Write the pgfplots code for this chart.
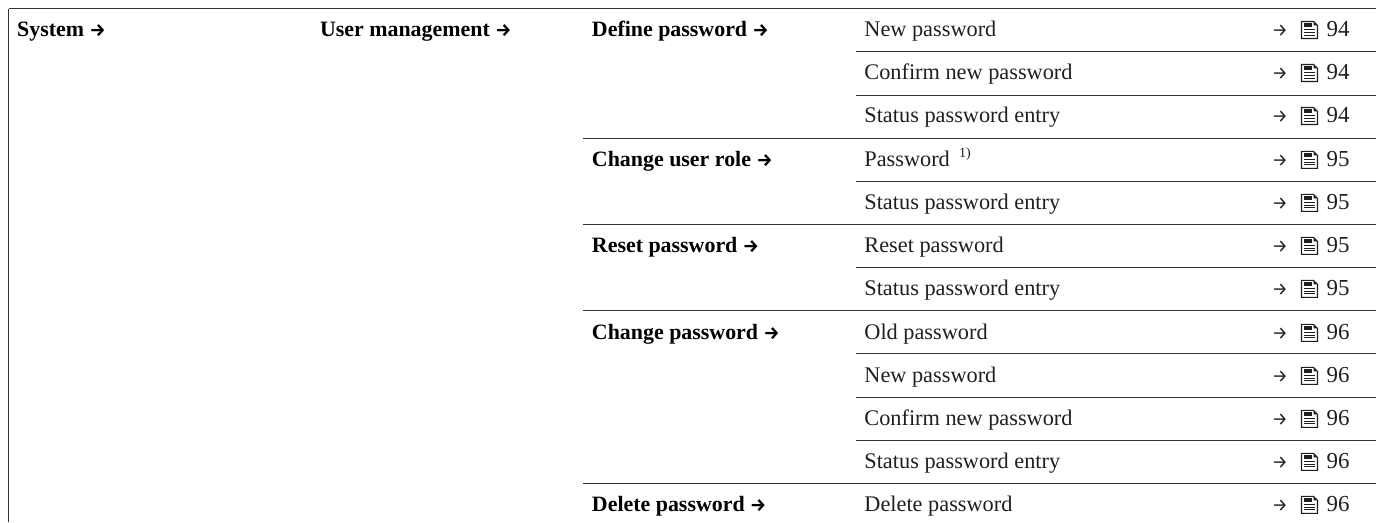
\documentclass[border=0pt]{standalone}
\usepackage{pgfplots}
\pgfplotsset{compat=1.18}
\usepackage{fontspec}
\setmainfont{Liberation Serif}
\newfontfamily\arrowfont{Fira Sans}
\newcommand{\arr}{{\arrowfont\fontsize{18}{18}\selectfont →}}
\definecolor{ink}{gray}{0.12}
\definecolor{rule}{gray}{0.2}
\tikzset{doc/.pic={
  \draw[line width=1.1bp,ink] (-8bp,-8.5bp) -- (-8bp,8.5bp) -- (4bp,8.5bp) -- (8bp,4.5bp) -- (8bp,-8.5bp) -- cycle;
  \fill[ink] (4bp,8.5bp) -- (8bp,4.5bp) -- (4bp,4.5bp) -- cycle;
  \fill[ink] (-5.5bp,2.5bp) rectangle (2.5bp,7bp);
  \draw[line width=0.9bp,ink] (-5.5bp,0.5bp) -- (5.5bp,0.5bp) (-5.5bp,-2.2bp) -- (5.5bp,-2.2bp) (-5.5bp,-5bp) -- (5.5bp,-5bp);
}}
\begin{document}
\begin{tikzpicture}
\begin{axis}[x=1bp,y=-1bp,xmin=0,xmax=1376,ymin=0,ymax=522,axis lines=none,
  scale only axis,clip=false,
  every axis plot/.append style={line width=1bp,rule,no markers,solid}]
\path (axis cs:0,0) (axis cs:1376,522);
\addplot[forget plot] coordinates {(9,9) (1376,9)};
\addplot[forget plot] coordinates {(9,9) (9,522)};
\addplot[forget plot] coordinates {(856,52) (1376,52)};
\addplot[forget plot] coordinates {(856,95.5) (1376,95.5)};
\addplot[forget plot] coordinates {(583,138.5) (1376,138.5)};
\addplot[forget plot] coordinates {(856,181.5) (1376,181.5)};
\addplot[forget plot] coordinates {(583,225) (1376,225)};
\addplot[forget plot] coordinates {(856,268) (1376,268)};
\addplot[forget plot] coordinates {(583,311) (1376,311)};
\addplot[forget plot] coordinates {(856,354) (1376,354)};
\addplot[forget plot] coordinates {(856,397.5) (1376,397.5)};
\addplot[forget plot] coordinates {(856,441) (1376,441)};
\addplot[forget plot] coordinates {(583,484) (1376,484)};
\newcommand{\lab}[3]{\node[anchor=base west,inner sep=0pt,font=\fontsize{22}{24}\selectfont\bfseries] at (axis cs:#1,#2) {#3};}
\newcommand{\ent}[3]{%
  \node[anchor=base west,inner sep=0pt,font=\fontsize{22.4}{25}\selectfont\color{ink}] at (axis cs:864.5,#1) {#2};
  \node[anchor=base west,inner sep=0pt,text=ink] at (axis cs:1272,#1) {\arr};
  \pic at (axis cs:1310,#1-7) {doc};
  \node[anchor=base west,inner sep=0pt,font=\fontsize{23}{25}\selectfont\color{ink}] at (axis cs:1327,#1) {#3};}
\lab{17}{37}{System \arr}
\lab{320}{37}{User management \arr}
\lab{592}{37}{Define password \arr}
\lab{592}{167}{Change user role \arr}
\lab{592}{253}{Reset password \arr}
\lab{592}{340}{Change password \arr}
\lab{592}{512}{Delete password \arr}
\ent{37}{New password}{94}
\ent{80}{Confirm new password}{94}
\ent{123}{Status password entry}{94}
\ent{167}{Password\, \raisebox{9bp}{\fontsize{14}{14}\selectfont 1)}}{95}
\ent{210}{Status password entry}{95}
\ent{253}{Reset password}{95}
\ent{296}{Status password entry}{95}
\ent{340}{Old password}{96}
\ent{383}{New password}{96}
\ent{426}{Confirm new password}{96}
\ent{469}{Status password entry}{96}
\ent{512}{Delete password}{96}
\end{axis}
\end{tikzpicture}
\end{document}
